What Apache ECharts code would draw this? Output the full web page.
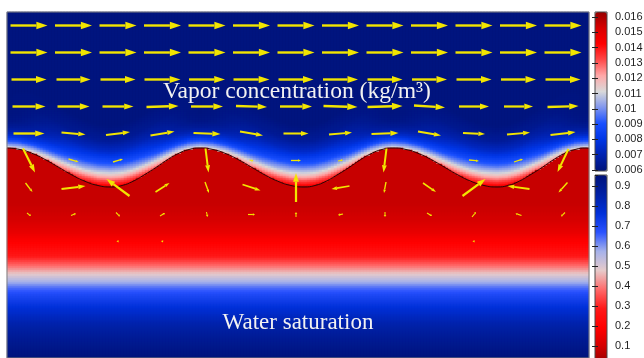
<!DOCTYPE html>
<html>
<head>
<meta charset="utf-8">
<script src="https://cdn.jsdelivr.net/npm/echarts@6/dist/echarts.min.js"></script>
<style>
html,body{margin:0;padding:0;background:#fff;}
#chart{width:644px;height:358px;}
</style>
</head>
<body>
<div id="chart"></div>
<script>
// ---- values (x to the right, y downward from the top of the plot) ----
// wavy interface between the air stream and the wet layer
var ifaceX = [0,13,26,39,52,65,78,91,104,115,126,137,149,160,171,182,193,
              206,219,232,245,258,271,284,297,308,319,330,342,353,364,375,386,
              399,412,425,438,451,464,477,490,501,512,523,535,546,557,568,579,582];
var ifaceY = [136,137.5,141.7,148,155.5,163,169.3,173.5,175,173.5,169.3,163,155.5,148,141.7,137.5,136,
              137.5,141.7,148,155.5,163,169.3,173.5,175,173.5,169.3,163,155.5,148,141.7,137.5,136,
              137.5,141.7,148,155.5,163,169.3,173.5,175,173.5,169.3,163,155.5,148,141.7,137.5,136,136.2];

// vapor concentration (kg/m3) vs distance above the interface, over a crest and over a trough
var vapDist     = [0, 2.5, 5, 7.5, 10, 13, 17, 21, 27, 35, 45, 60];
var vapAtPeak   = [0.0113,0.0104,0.0096,0.0088,0.0081,0.0074,0.0068,0.0064,0.0061,0.0060,0.0060,0.0060];
var vapAtTrough = [0.0144,0.0139,0.0133,0.0126,0.0119,0.0111,0.0103,0.0094,0.0085,0.0074,0.0065,0.0060];

// water saturation vs depth
var satDepth = [130, 192, 207, 220, 232, 244, 252, 258, 264, 270, 276, 284, 297, 311, 325, 339, 346];
var satValue = [0.08,0.08,0.10,0.14,0.20,0.28,0.36,0.43,0.50,0.57,0.64,0.70,0.77,0.84,0.89,0.93,0.95];

// velocity arrows: sample columns / rows and vector components (px)
var arrowCols = [22, 66.5, 111, 155.5, 200, 244.5, 289, 333.5, 378, 422.5, 467, 511.5, 556];
var arrowRows = [13.5, 40.5, 67.5, 94.5, 121.5, 148.5, 175.5, 202.5, 229.5];
var arrowU = [
  [37,37,37,37,37,37,37,37,37,37,37,37,37],
  [37,37,37,37,37,37,37,37,37,37,37,37,37],
  [35,34,35,36,36,36,35,35,35,35,35,35,35],
  [33,32,31,32,32,31,32,34,35,31,30,29,31],
  [31,24,24,24,27,23,25,23,27,23,22,23,25],
  [12,10,10,0,3,4,10,5,-3,0,10,9,-11],
  [7,24,-23,14,4,18,0,-18,-2,13,23,-22,-9],
  [4,5,4,5,1,7,0,-5,0,5,4,-6,-4],
  [0,0,1,1,0,0,0,0,0,0,1,0,0]
];
var arrowV = [
  [0,0,0,0,0,0,0,0,0,0,0,0,0],
  [0,0,0,0,0,0,0,0,0,0,0,0,0],
  [0,0,0,0,0,0,0,0,0,0,0,0,0],
  [0,0,0,-1,0,1,0,1,-1,2,0,0,-1],
  [0,2,-3,-4,1,4,0,-2,-1,4,1,-2,-3],
  [24,3,-3,0,24,1,0,-1,24,0,1,-3,23],
  [9,-3,-17,-9,11,6,-29,3,11,9,-17,-3,10],
  [3,-2,4,-3,5,0,-5,1,5,3,-5,-2,4],
  [0,0,2,2,0,0,0,0,0,0,2,0,0]
];

// colour bar ranges and tick steps
var vapBar = [0.0059, 0.0163];
var vapTicks = [0.006, 0.016, 0.001];
var satBar = [0, 0.955];
var satTicks = [0, 0.955, 0.1];

var vaporColors = ['#00137a','#0022b0','#0036e6','#1a50ff','#8096ee','#d9d9d9','#ffa8a8','#ff4848','#ff0000','#d80000','#960000'];
var satColors   = ['#8c0000','#d20000','#ff0000','#ff1818','#ff6a6a','#e6caca','#a6b2ea','#2a52ff','#0030d8','#0020a4','#00137a'];
var arrowColor = '#f2e500';

// ---- build the field cells ----
var W = 582, H = 346, NX = 194, NY = 173;
function interp(xs, ys, x) {
  if (x <= xs[0]) return ys[0];
  for (var i = 1; i < xs.length; i++) {
    if (x <= xs[i]) {
      var f = (x - xs[i-1]) / (xs[i] - xs[i-1]);
      return ys[i-1] + f * (ys[i] - ys[i-1]);
    }
  }
  return ys[ys.length - 1];
}
var crestY = Math.min.apply(null, ifaceY), troughY = Math.max.apply(null, ifaceY);
var xCats = [], yCats = [], vapCells = [], satCells = [];
for (var i = 0; i < NX; i++) xCats.push(i);
for (var j = 0; j < NY; j++) yCats.push(j);
for (var i = 0; i < NX; i++) {
  var xc = (i + 0.5) * W / NX;
  var yi = interp(ifaceX, ifaceY, xc);
  var t = (yi - crestY) / (troughY - crestY);
  for (var j = 0; j < NY; j++) {
    var yc = (j + 0.5) * H / NY;
    if (yc < yi) {
      var d = yi - yc;
      var v = (1 - t) * interp(vapDist, vapAtPeak, d) + t * interp(vapDist, vapAtTrough, d);
      vapCells.push([i, j, v]);
    } else {
      satCells.push([i, j, interp(satDepth, satValue, yc)]);
    }
  }
}
var ifacePts = ifaceX.map(function (x, k) { return [x, ifaceY[k]]; });
var arrowData = [];
arrowRows.forEach(function (y, r) {
  arrowCols.forEach(function (x, c) {
    if (arrowU[r][c] !== 0 || arrowV[r][c] !== 0) arrowData.push([x, y, arrowU[r][c], arrowV[r][c]]);
  });
});

function renderArrow(params, api) {
  var x = api.value(0), y = api.value(1), u = api.value(2), v = api.value(3);
  var p0 = api.coord([x - u / 2, y - v / 2]);
  var p1 = api.coord([x + u / 2, y + v / 2]);
  var ddx = p1[0] - p0[0], ddy = p1[1] - p0[1];
  var len = Math.sqrt(ddx * ddx + ddy * ddy);
  if (len < 0.5) return;
  var ux = ddx / len, uy = ddy / len;
  var hl = Math.max(2, len * 0.3), hw = Math.max(1.3, len * 0.1);
  var bx = p1[0] - ux * hl, by = p1[1] - uy * hl;
  var lw = Math.min(2.4, 0.8 + len * 0.05);
  return {
    type: 'group',
    children: [
      {type: 'line', shape: {x1: p0[0], y1: p0[1], x2: bx, y2: by}, style: {stroke: arrowColor, lineWidth: lw}},
      {type: 'polygon', shape: {points: [[p1[0], p1[1]], [bx - uy * hw, by + ux * hw], [bx + uy * hw, by - ux * hw]]},
       style: {fill: arrowColor}}
    ]
  };
}

var labelStyle = {color: '#1e1e1e', fontSize: 11, fontFamily: 'Liberation Sans', margin: 8};
var tickStyle = {show: true, inside: true, length: 3, lineStyle: {color: '#222'}};

var chart = echarts.init(document.getElementById('chart'));
var option = {
  animation: false,
  grid: [
    {left: 7, top: 12, width: W, height: H, outerBoundsMode: 'none'},
    {left: 7, top: 12, width: W, height: H, show: true, borderColor: '#808080', borderWidth: 1, z: 5, outerBoundsMode: 'none'},
    {left: 595, top: 12, width: 12, height: 159, show: true, borderColor: '#4a4a4a', borderWidth: 1, z: 6, outerBoundsMode: 'none'},
    {left: 595, top: 17, width: 12, height: 153, outerBoundsMode: 'none'},
    {left: 595, top: 175, width: 12, height: 191, show: true, borderColor: '#4a4a4a', borderWidth: 1, z: 6, outerBoundsMode: 'none'}
  ],
  xAxis: [
    {gridIndex: 0, type: 'category', data: xCats, show: false},
    {gridIndex: 1, type: 'value', min: 0, max: W, show: false},
    {gridIndex: 2, type: 'value', min: 0, max: 1, show: false},
    {gridIndex: 3, type: 'value', min: 0, max: 1, show: false},
    {gridIndex: 4, type: 'value', min: 0, max: 1, show: false}
  ],
  yAxis: [
    {gridIndex: 0, type: 'category', data: yCats, inverse: true, show: false},
    {gridIndex: 1, type: 'value', min: 0, max: H, inverse: true, show: false},
    {gridIndex: 2, type: 'value', min: 0, max: 1, show: false},
    {gridIndex: 3, type: 'value', position: 'right', min: vapTicks[0], max: vapTicks[1], interval: vapTicks[2],
     axisLine: {show: false}, splitLine: {show: false}, axisTick: tickStyle, axisLabel: labelStyle, z: 7},
    {gridIndex: 3, type: 'value', position: 'left', min: vapTicks[0], max: vapTicks[1], interval: vapTicks[2],
     axisLine: {show: false}, splitLine: {show: false}, axisTick: tickStyle, axisLabel: {show: false}, z: 7},
    {gridIndex: 4, type: 'value', position: 'right', min: satTicks[0], max: satTicks[1], interval: satTicks[2],
     axisLine: {show: false}, splitLine: {show: false}, axisTick: tickStyle,
     axisLabel: Object.assign({showMaxLabel: false, showMinLabel: false}, labelStyle), z: 7},
    {gridIndex: 4, type: 'value', position: 'left', min: satTicks[0], max: satTicks[1], interval: satTicks[2],
     axisLine: {show: false}, splitLine: {show: false}, axisTick: tickStyle, axisLabel: {show: false}, z: 7}
  ],
  visualMap: [
    {type: 'continuous', seriesIndex: 0, dimension: 2, min: vapBar[0], max: vapBar[1], inRange: {color: vaporColors},
     left: 595, top: 12, itemWidth: 12, itemHeight: 159, padding: 0, calculable: false, hoverLink: false},
    {type: 'continuous', seriesIndex: 1, dimension: 2, min: satBar[0], max: satBar[1], inRange: {color: satColors},
     left: 595, top: 175, itemWidth: 12, itemHeight: 191, padding: 0, calculable: false, hoverLink: false}
  ],
  series: [
    {type: 'heatmap', xAxisIndex: 0, yAxisIndex: 0, data: vapCells, progressive: 0, silent: true,
     itemStyle: {borderWidth: 0}, emphasis: {disabled: true}},
    {type: 'heatmap', xAxisIndex: 0, yAxisIndex: 0, data: satCells, progressive: 0, silent: true,
     itemStyle: {borderWidth: 0}, emphasis: {disabled: true}},
    {type: 'line', xAxisIndex: 1, yAxisIndex: 1, data: ifacePts, showSymbol: false, smooth: true, silent: true,
     lineStyle: {color: '#2a0606', width: 1}, z: 3},
    {type: 'custom', xAxisIndex: 1, yAxisIndex: 1, data: arrowData, renderItem: renderArrow, silent: true,
     encode: {x: 0, y: 1}, clip: false, z: 4}
  ],
  graphic: [
    {type: 'text', x: 297, y: 92, z: 100, silent: true,
     style: {text: 'Vapor concentration (kg/m³)', font: '23.6px "Liberation Serif"', fill: '#f2f2f2', align: 'center', verticalAlign: 'middle'}},
    {type: 'text', x: 298, y: 323, z: 100, silent: true,
     style: {text: 'Water saturation', font: '23px "Liberation Serif"', fill: '#f2f2f2', align: 'center', verticalAlign: 'middle'}}
  ]
};
chart.setOption(option);
window.addEventListener('resize', function () { chart.resize(); });
</script>
</body>
</html>
